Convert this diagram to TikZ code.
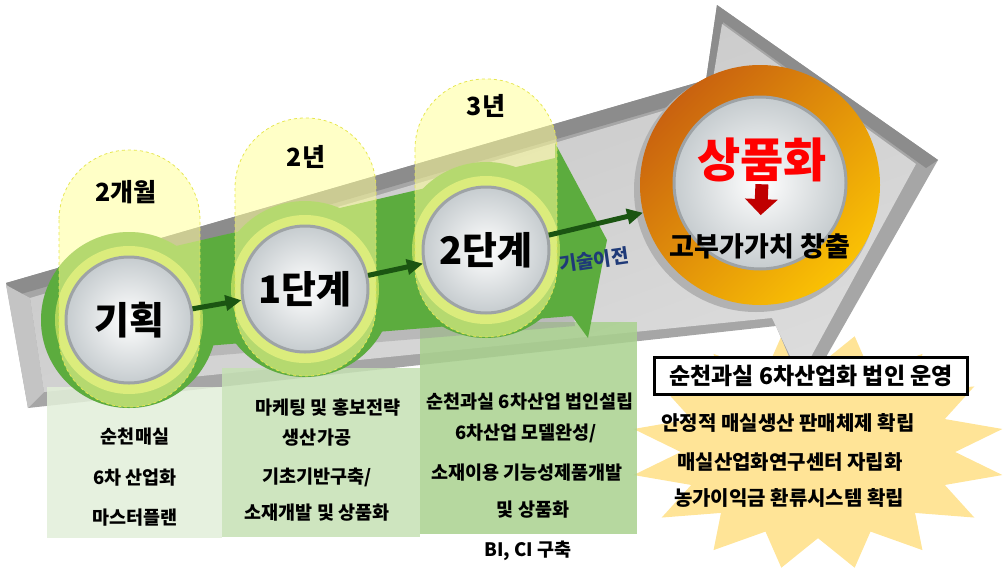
\documentclass[tikz,border=0pt]{standalone}
\usepackage{fontspec}
\newfontfamily\krfont{Noto Sans CJK KR}
\usetikzlibrary{arrows.meta}

% colours
\definecolor{bandgreen}{HTML}{5CAC3E}
\definecolor{ringgreen}{HTML}{B0D65A}
\definecolor{capyellow}{HTML}{FFFF99}
\definecolor{capedge}{HTML}{E6E650}
\definecolor{flowgreen}{HTML}{1B5512}
\definecolor{boxA}{HTML}{E2EFD9}
\definecolor{boxB}{HTML}{C5E0B4}
\definecolor{boxC}{HTML}{A9D18E}
\definecolor{burstyellow}{HTML}{FFE497}
\definecolor{navytxt}{HTML}{1F3A78}
\definecolor{ringdark}{HTML}{C9620F}
\definecolor{ringlight}{HTML}{FAC104}
\definecolor{arrowred}{HTML}{C00000}
\definecolor{greyside}{HTML}{A6A6A6}
\definecolor{greyedge}{HTML}{8C8C8C}
\definecolor{greyend}{HTML}{C4C4C4}
\definecolor{faceA}{HTML}{C4C4C4}
\definecolor{faceB}{HTML}{DCDCDC}
\definecolor{silver}{HTML}{C6CCCF}
\definecolor{silverrim}{HTML}{9EA3A6}

\begin{document}
\begin{tikzpicture}[x=1pt, y=-1pt,
    stagetxt/.style={font=\krfont\bfseries\fontsize{38}{38}\selectfont, inner sep=0pt},
    periodtxt/.style={font=\krfont\bfseries\fontsize{25}{25}\selectfont, inner sep=0pt},
    celltxt/.style={font=\krfont\bfseries\fontsize{18.5}{18.5}\selectfont, inner sep=0pt},
    bursttxt/.style={font=\krfont\bfseries\fontsize{20}{20}\selectfont, inner sep=0pt},
    button/.style={circle, minimum size=#1, inner sep=0pt, draw=silverrim, line width=3pt,
        inner color=white, outer color=silver},
    capsule/.style={fill=capyellow, fill opacity=0.55, draw=capedge, dashed, line width=0.8pt, rounded corners=70pt},
    flow/.style={draw=flowgreen, line width=5pt, -{Triangle[length=16pt,width=15pt]}},
    redarrow/.style={draw=arrowred, line width=13pt, -{Triangle[length=16pt,width=32pt]}},
  ]
  \useasboundingbox (0,0) rectangle (1005,571);

  % stage centres
  \coordinate (c0) at (129,320);  % planning
  \coordinate (c1) at (305,289);  % stage 1
  \coordinate (c2) at (486,250);  % stage 2
  \coordinate (cg) at (760,185);  % commercialisation

  % ===== Starburst =====
  \fill[burstyellow] (955.2,452) \foreach \k in {1,...,31} {
      -- ({818+188*(0.73+0.27*mod(\k,2))*cos(\k*11.25)}, {452+118*(0.73+0.27*mod(\k,2))*sin(\k*11.25)}) } -- cycle;

  % ===== Big grey arrow =====
  \fill[greyside] (6,283) -- (706,80) -- (717,5) -- (938,160) -- (805,394) -- (776,326) -- (28,408) -- cycle;
  \fill[greyedge] (6,283) -- (706,80) -- (717,5) -- (938,160) -- (926,168) -- (723,22) -- (712,94) -- (14,296) -- cycle;
  \fill[greyend] (6,285) -- (30,298) -- (44,392) -- (28,408) -- cycle;
  \shade[top color=faceA, bottom color=faceB, shading angle=20] (30,298) -- (710,97) -- (722,24) -- (916,164) -- (800,377) -- (772,318) -- (44,392) -- cycle;

  % ===== Task boxes =====
  \fill[boxA, fill opacity=0.85] (47,387) rectangle (222,538);
  \fill[boxB, fill opacity=0.85] (222,368) rectangle (420,537);
  \fill[boxC, fill opacity=0.85] (420,322) rectangle (637,534);

  % ===== Green arrow with stage discs =====
  \begin{scope}[shift={(3,10)}]
    \fill[gray!80, opacity=0.45] (120,259) -- (555,158) -- (572,316) -- (120,353) -- cycle;
    \foreach \c in {c0,c1,c2} \fill[gray!80, opacity=0.45] (\c) circle[radius=88pt];
  \end{scope}
  \fill[bandgreen] (120,259) -- (555,158) -- (555,143) -- (607,240) -- (588,338) -- (572,316) -- (120,353) -- cycle;
  \foreach \c in {c0,c1,c2} {
    \fill[bandgreen] (\c) circle[radius=88pt];
    \fill[ringgreen] (\c) circle[radius=74pt];
  }

  % period capsules
  \draw[capsule] (59,150) rectangle (200,407);
  \draw[capsule] (235,118) rectangle (376,376);
  \draw[capsule] (415,79) rectangle (557,337);

  % stage buttons
  \node[button=126pt, stagetxt] (s0) at (c0) {기획};
  \node[button=126pt, stagetxt] (s1) at (c1) {1단계};
  \node[button=126pt, stagetxt] (s2) at (c2) {2단계};

  \node[periodtxt] (p0) at (126,192) {2개월};
  \node[periodtxt] (p1) at (306,157) {2년};
  \node[periodtxt] (p2) at (486,106) {3년};

  % ===== Commercialisation ring =====
  \fill[gray!60] (756,190) circle[radius=122pt];
  \node[circle, minimum size=240pt, inner sep=0pt, top color=ringdark, bottom color=ringlight, shading angle=45] (goal) at (cg) {};
  \node[button=172pt] (gbtn) at (760,183) {};
  \node[font=\krfont\bfseries\fontsize{47}{47}\selectfont, text=red, inner sep=0pt] (prod) at (762,160) {상품화};
  \node[font=\krfont\bfseries\fontsize{27}{27}\selectfont, inner sep=0pt] (value) at (760,246) {고부가가치 창출};
  \draw[redarrow, shorten <=2pt, shorten >=18pt] (prod.south) -- (value.north);

  % ===== Flow arrows =====
  \draw[flow] (s0) -- (s1);
  \draw[flow] (s1) -- (s2);
  \draw[flow] (s2) -- (goal);
  \node[font=\krfont\bfseries\fontsize{19}{19}\selectfont, text=navytxt, rotate=8, inner sep=0pt] (tt) at (594,260) {기술이전};

  % ===== Box texts =====
  \node[celltxt] (a1) at (135,437) {순천매실};
  \node[celltxt] (a2) at (135,478) {6차 산업화};
  \node[celltxt] (a3) at (135,518) {마스터플랜};

  \node[celltxt] (b1) at (328,408) {마케팅 및 홍보전략};
  \node[celltxt] (b2) at (317,438) {생산가공};
  \node[celltxt] (b3) at (317,477) {기초기반구축/};
  \node[celltxt] (b4) at (317,513) {소재개발 및 상품화};

  \node[celltxt] (d1) at (530,402) {순천과실 6차산업 법인설립};
  \node[celltxt] (d2) at (526,433) {6차산업 모델완성/};
  \node[celltxt] (d3) at (527,473) {소재이용 기능성제품개발};
  \node[celltxt] (d4) at (533,510) {및 상품화};

  \node[celltxt] (bici) at (528,551) {BI, CI 구축};

  % ===== Corporation box and goals =====
  \node[draw, line width=3pt, fill=white, minimum width=313pt, minimum height=37pt,
        font=\krfont\bfseries\fontsize{23}{23}\selectfont] (corp) at (811,376) {순천과실 6차산업화 법인 운영};
  \node[bursttxt] (g1) at (788,423) {안정적 매실생산 판매체제 확립};
  \node[bursttxt] (g2) at (790,462) {매실산업화연구센터 자립화};
  \node[bursttxt] (g3) at (789,498) {농가이익금 환류시스템 확립};
\end{tikzpicture}
\end{document}
